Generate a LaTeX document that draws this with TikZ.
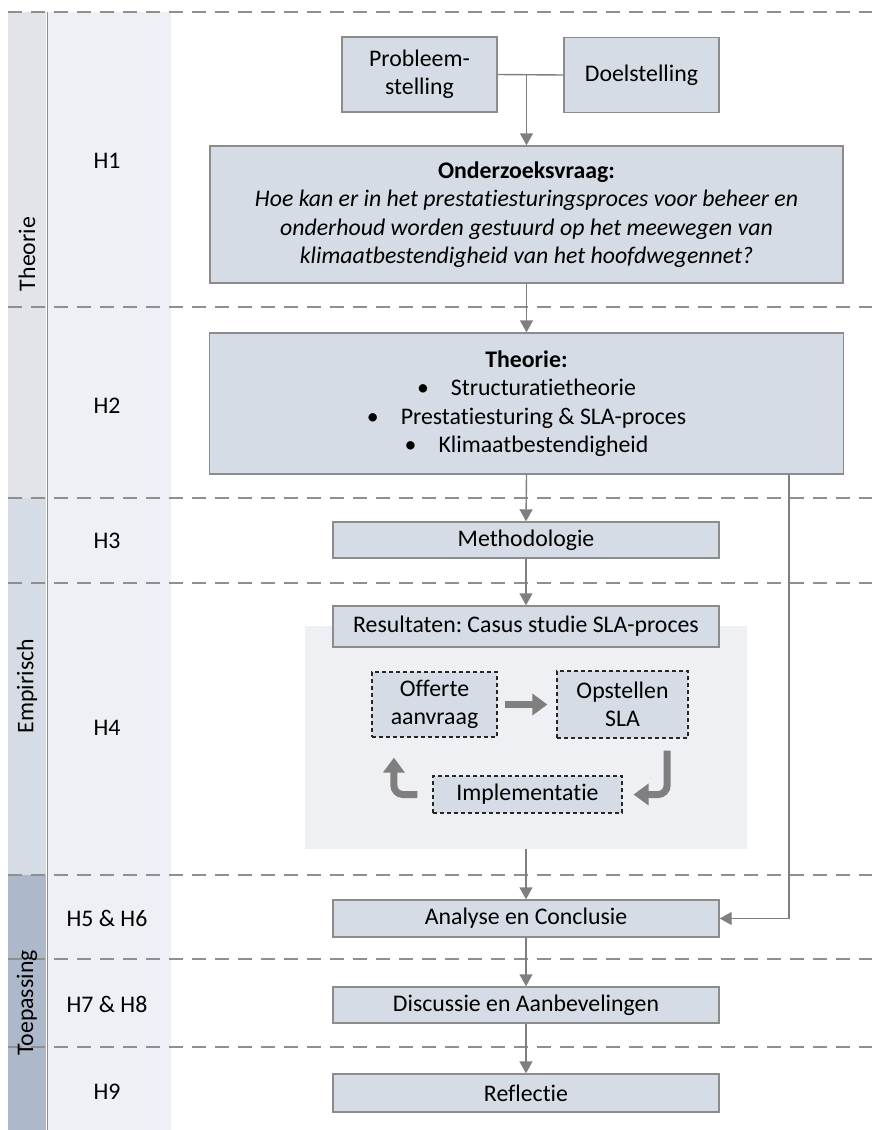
\documentclass[tikz,border=0pt]{standalone}
\usepackage{fontspec}
\setmainfont{Carlito}[Ligatures=NoCommon]
\usetikzlibrary{arrows.meta}
\definecolor{boxfill}{HTML}{D6DCE5}
\definecolor{boxline}{HTML}{8C8C8C}
\definecolor{bandA}{HTML}{E3E4E9}
\definecolor{bandB}{HTML}{D6DCE5}
\definecolor{bandC}{HTML}{ADB9CA}
\definecolor{colfill}{HTML}{EFF0F5}
\definecolor{panelfill}{HTML}{EFF0F4}
\definecolor{arrowgray}{HTML}{7F7F7F}
\definecolor{dashgray}{HTML}{8F8F8F}
\frenchspacing
\begin{document}
\begin{tikzpicture}[x=1pt,y=-1pt,
  txt/.style={font=\fontsize{23.8}{28.5}\selectfont, inner sep=0pt},
  box/.style={draw=boxline, line width=1.4pt, fill=boxfill, inner sep=0pt, align=center,
              font=\fontsize{23.8}{28.5}\selectfont},
  dbox/.style={box, draw=black!85, line width=1.2pt, dash pattern=on 4pt off 3pt},
  link/.style={draw=arrowgray, line width=1.4pt},
  arr/.style={link, -{Triangle[width=13pt,length=12pt]}},
  fat/.style={draw=arrowgray, line width=7pt, -{Triangle[width=21pt,length=15pt]}},
  sep/.style={draw=dashgray, line width=1.5pt, dash pattern=on 14pt off 9pt},
]
\useasboundingbox (0,0) rectangle (872,1130);

% chapter column and phase bands
\fill[colfill] (47,12) rectangle (171,1130);
\fill[bandA] (8,12) rectangle (46,498);
\fill[bandB] (8,498) rectangle (46,875);
\fill[bandC] (8,875) rectangle (46,1130);
\draw[draw=boxline, line width=1.4pt] (47.5,12) -- (47.5,1130);

% phase separators
\foreach \y in {12,307,498,583,875,959,1047}
  \draw[sep] (8,\y) -- (872,\y);

% phase names
\node[txt, rotate=90] (pA) at (27,254) {Theorie};
\node[txt, rotate=90] (pB) at (27,686) {Empirisch};
\node[txt, rotate=90] (pC) at (27,1003) {Toepassing};

% chapter labels
\node[txt] (h1) at (107,161) {H1};
\node[txt] (h2) at (107,406) {H2};
\node[txt] (h3) at (107,541) {H3};
\node[txt] (h4) at (107,728) {H4};
\node[txt] (h56) at (107,918) {H5 \& H6};
\node[txt] (h78) at (107,1004) {H7 \& H8};
\node[txt] (h9) at (107,1092) {H9};

% case study panel
\node[fill=panelfill, inner sep=0pt, minimum width=442pt, minimum height=223pt] (panel) at (526,737.5) {};

% main boxes
\node[box, minimum width=155pt, minimum height=75pt] (prob) at (419.5,74.5) {Probleem-\\stelling};
\node[box, minimum width=155pt, minimum height=75pt] (doel) at (641.5,75) {Doelstelling};
\node[box, minimum width=633pt, minimum height=137pt] (onder) at (526.5,214.5)
  {\textbf{Onderzoeksvraag:}\\ \itshape Hoe kan er in het prestatiesturingsproces voor beheer en\\
   \itshape onderhoud worden gestuurd op het meewegen van\\
   \itshape klimaatbestendigheid van het hoofdwegennet?};
\node[box, minimum width=634pt, minimum height=141pt] (theo) at (526.5,403.5)
  {\textbf{Theorie:}\\
   \textbullet\hspace{22pt}Structuratietheorie\\
   \textbullet\hspace{22pt}Prestatiesturing \& SLA-proces\\
   \textbullet\hspace{22pt}Klimaatbestendigheid};
\node[box, minimum width=386pt, minimum height=36pt] (meth) at (526,540) {Methodologie};
\node[box, minimum width=386pt, minimum height=41pt] (res) at (526,626.5) {Resultaten: Casus studie SLA-proces};
\node[dbox, minimum width=125pt, minimum height=65pt] (off) at (434.5,704.5) {Offerte\\aanvraag};
\node[dbox, minimum width=131pt, minimum height=67pt] (ops) at (622.5,704.5) {Opstellen\\SLA};
\node[dbox, minimum width=189pt, minimum height=37pt] (impl) at (527.5,794.5) {Implementatie};
\node[box, minimum width=386pt, minimum height=37pt] (ana) at (526,918.5) {Analyse en Conclusie};
\node[box, minimum width=386pt, minimum height=36pt] (disc) at (526,1005) {Discussie en Aanbevelingen};
\node[box, minimum width=386pt, minimum height=38pt] (refl) at (526,1093) {Reflectie};

% flow connectors
\coordinate (join) at (onder.north |- prob.east);
\draw[link] (prob.east) -- (doel.west);
\draw[arr] (join) -- (onder.north);
\draw[arr] (onder.south) -- (theo.north);
\draw[arr] (theo.south) -- (meth.north);
\draw[arr] (meth.south) -- (res.north);
\draw[arr] (panel.south) -- (ana.north);
\draw[arr] (ana.south) -- (disc.north);
\draw[arr] (disc.south) -- (refl.north);
\coordinate (bend) at (789,918.5);
\draw[arr] (theo.south -| bend) -- (bend) -- (ana.east);

% SLA cycle
\draw[fat, shorten <=7pt, shorten >=9pt] (off.east) -- (ops.west);
\draw[fat, rounded corners=9pt] ([xshift=-21.5pt,yshift=-12pt]ops.south east) |- ([xshift=11pt]impl.east);
\draw[fat, rounded corners=9pt] ([xshift=-15pt]impl.west) -| ([xshift=22.5pt,yshift=-20pt]off.south west);
\end{tikzpicture}
\end{document}
